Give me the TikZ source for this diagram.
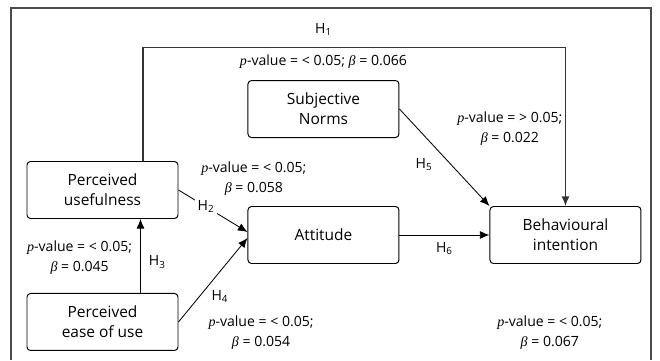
\documentclass[tikz,border=0pt]{standalone}
\usepackage{fontspec}
\setmainfont{Open Sans}
\newfontfamily\serifit{Liberation Serif}
\usepackage{tikz}
\usetikzlibrary{arrows.meta}
\usetikzlibrary{positioning}
\usetikzlibrary{calc}
\tikzstyle{block} = [draw, rectangle, rounded corners = 2.5pt, line width = 0.7pt, minimum height = 1.425cm, minimum width = 3.775cm, align = center, font = \fontsize{11}{14.2}\selectfont]
\tikzstyle{arrow} = [line width = 0.6pt, -{Latex[length = 2.4mm, width = 2mm]}]
\tikzstyle{hlab} = [inner sep = 0pt, align = center, font = \fontsize{10}{14.2}\selectfont]
\newcommand{\pval}{{\serifit\itshape p}-value}
\newcommand{\bet}{{\serifit\itshape β}}

\begin{document}
\begin{tikzpicture}
	
	% Page size and frame
	\useasboundingbox (-2.5625, -4.25) rectangle (13.9375, 4.75);
	\draw[line width = 0.8pt, black!70] (-2.2875, -4.25) -- (-2.2875, 4.55) -- (13.7125, 4.55) -- (13.7125, -4.25);
	
	% Constructs
	\node[block] (pu) {Perceived\\usefulness};
	\node[block, below = 1.85 cm of pu] (peou) {Perceived\\ease of use};
	\node[block, right = 1.725 cm of pu, yshift = -1.125 cm] (att) {Attitude};
	\node[block, right = 2.25 cm of att] (bi) {Behavioural\\intention};
	\node[block, above = 1.7 cm of att] (sn) {Subjective\\Norms};
	
	% Long path for H1
	\coordinate (h1l) at ($(pu.north) + (1.0125, 0)$);
	\coordinate[above = 2.84 cm of h1l] (h1top);
	\coordinate (h1mid) at (sn.north |- h1top);
	\draw[arrow, line width = 1pt, black!80] (h1l) -- (h1top) -| (bi.north);
	\node[hlab, above = 0.28 cm of h1mid] (h1) {H\textsubscript{1}};
	\node[hlab, above = 0.28 cm of sn] (pv1) {\pval{} = < 0.05; \bet{} = 0.066};
	
	% Paths into attitude
	\draw[arrow] (pu.east) -- node[hlab, pos = 0.4, fill = white, inner sep = 2pt] (h2) {H\textsubscript{2}} ($(att.west) + (0, 0.075)$);
	\draw[arrow] (peou.east) -- node[hlab, pos = 0.3, right = 0.3 cm] (h4) {H\textsubscript{4}} ($(att.west) + (0, -0.075)$);
	\node[hlab, above = 0.25 cm of att.north, xshift = -1.74 cm] (pv2) {\pval{} = < 0.05;\\\bet{} = 0.058};
	\node[hlab, below = 1.3 cm of att.south, xshift = -1.56 cm] (pv4) {\pval{} = < 0.05;\\\bet{} = 0.054};
	
	% Ease of use to usefulness
	\draw[arrow] (peou.north) ++(0.95, 0) coordinate (peoun) -- node[hlab, pos = 0.42, right = 0.2 cm] (h3) {H\textsubscript{3}} (peoun |- pu.south);
	\node[hlab, left = 0.2 cm of $(peoun)!0.48!(peoun |- pu.south)$] (pv3) {\pval{} = < 0.05;\\\bet{} = 0.045};
	
	% Paths into behavioural intention
	\draw[arrow] (sn.east) -- node[hlab, pos = 0.57, left = 0.45 cm] (h5) {H\textsubscript{5}} (bi.north west);
	\draw[arrow] (att.east) -- node[hlab, midway, below = 0.18 cm] (h6) {H\textsubscript{6}} (bi.west);
	\node[hlab, above = 1.5 cm of bi.north, xshift = -1.39 cm] (pv5) {\pval{} = > 0.05;\\\bet{} = 0.022};
	\node[hlab, below = 1.3 cm of bi.south, xshift = -0.39 cm] (pv6) {\pval{} = < 0.05;\\\bet{} = 0.067};
	
\end{tikzpicture}
\end{document}
